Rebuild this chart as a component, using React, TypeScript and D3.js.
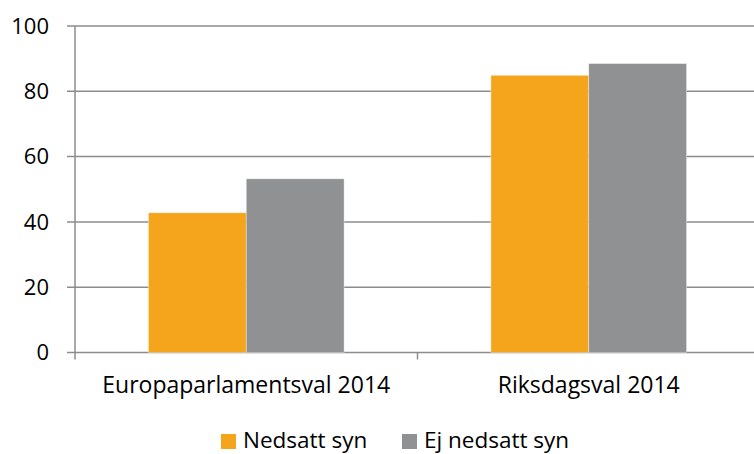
import * as d3 from "d3";

const categories = ["Europaparlamentsval 2014", "Riksdagsval 2014"];
const seriesNames = ["Nedsatt syn", "Ej nedsatt syn"];
const nedsatt = [42.8, 84.9];
const ejNedsatt = [53.2, 88.5];
const yTicks = [0, 20, 40, 60, 80, 100];
const colors = ["#F4A51C", "#909192"];

const W = 754;
const H = 454;
const M = { left: 75, right: -6, top: 26, bottom: 102 };
const FONT = "'Open Sans', sans-serif";
const FS = 22;

export default function App() {
  const x = d3.scaleBand().domain(categories).range([M.left, W - M.right]);
  const x1 = d3
    .scaleBand()
    .domain(seriesNames)
    .range([0, x.bandwidth()])
    .paddingInner(0)
    .paddingOuter(0.75);
  const y = d3.scaleLinear().domain([0, 100]).range([H - M.bottom + 0.5, M.top]);
  const values = [nedsatt, ejNedsatt];
  const grid = "#8c8c8c";

  return (
    <svg
      width={W}
      height={H}
      style={{ position: "fixed", left: 0, top: 0, background: "#fff" }}
    >
      {yTicks.map((t) => (
        <g key={t}>
          <line x1={67} x2={W} y1={y(t)} y2={y(t)} stroke={grid} strokeWidth={1.5} />
          <text
            x={49}
            y={y(t)}
            dy="0.35em"
            textAnchor="end"
            fontFamily={FONT}
            fontSize={FS}
            fill="#000"
          >
            {t}
          </text>
        </g>
      ))}
      <line x1={M.left} x2={M.left} y1={M.top} y2={y(0) + 7} stroke={grid} strokeWidth={1.5} />
      {categories.slice(1).map((c) => (
        <line key={c} x1={x(c)} x2={x(c)} y1={y(0)} y2={y(0) + 7} stroke={grid} strokeWidth={1.5} />
      ))}
      {categories.map((c, i) => (
        <g key={c}>
          {seriesNames.map((s, j) => (
            <rect
              key={s}
              x={(x(c) as number) + (x1(s) as number)}
              width={x1.bandwidth()}
              y={y(values[j][i])}
              height={y(0) - y(values[j][i])}
              fill={colors[j]}
              stroke="#fff"
              strokeOpacity={0.5}
              strokeWidth={0.75}
            />
          ))}
          <text
            x={(x(c) as number) + x.bandwidth() / 2}
            y={385}
            dy="0.35em"
            textAnchor="middle"
            fontFamily={FONT}
            fontSize={23}
            fill="#000"
          >
            {c}
          </text>
        </g>
      ))}
      {seriesNames.map((s, j) => {
        const lx = [221, 402][j];
        return (
          <g key={s}>
            <rect x={lx} y={434} width={15} height={15} fill={colors[j]} />
            <text x={lx + 22} y={440} dy="0.35em" fontFamily={FONT} fontSize={22.5} fill="#000">
              {s}
            </text>
          </g>
        );
      })}
    </svg>
  );
}
